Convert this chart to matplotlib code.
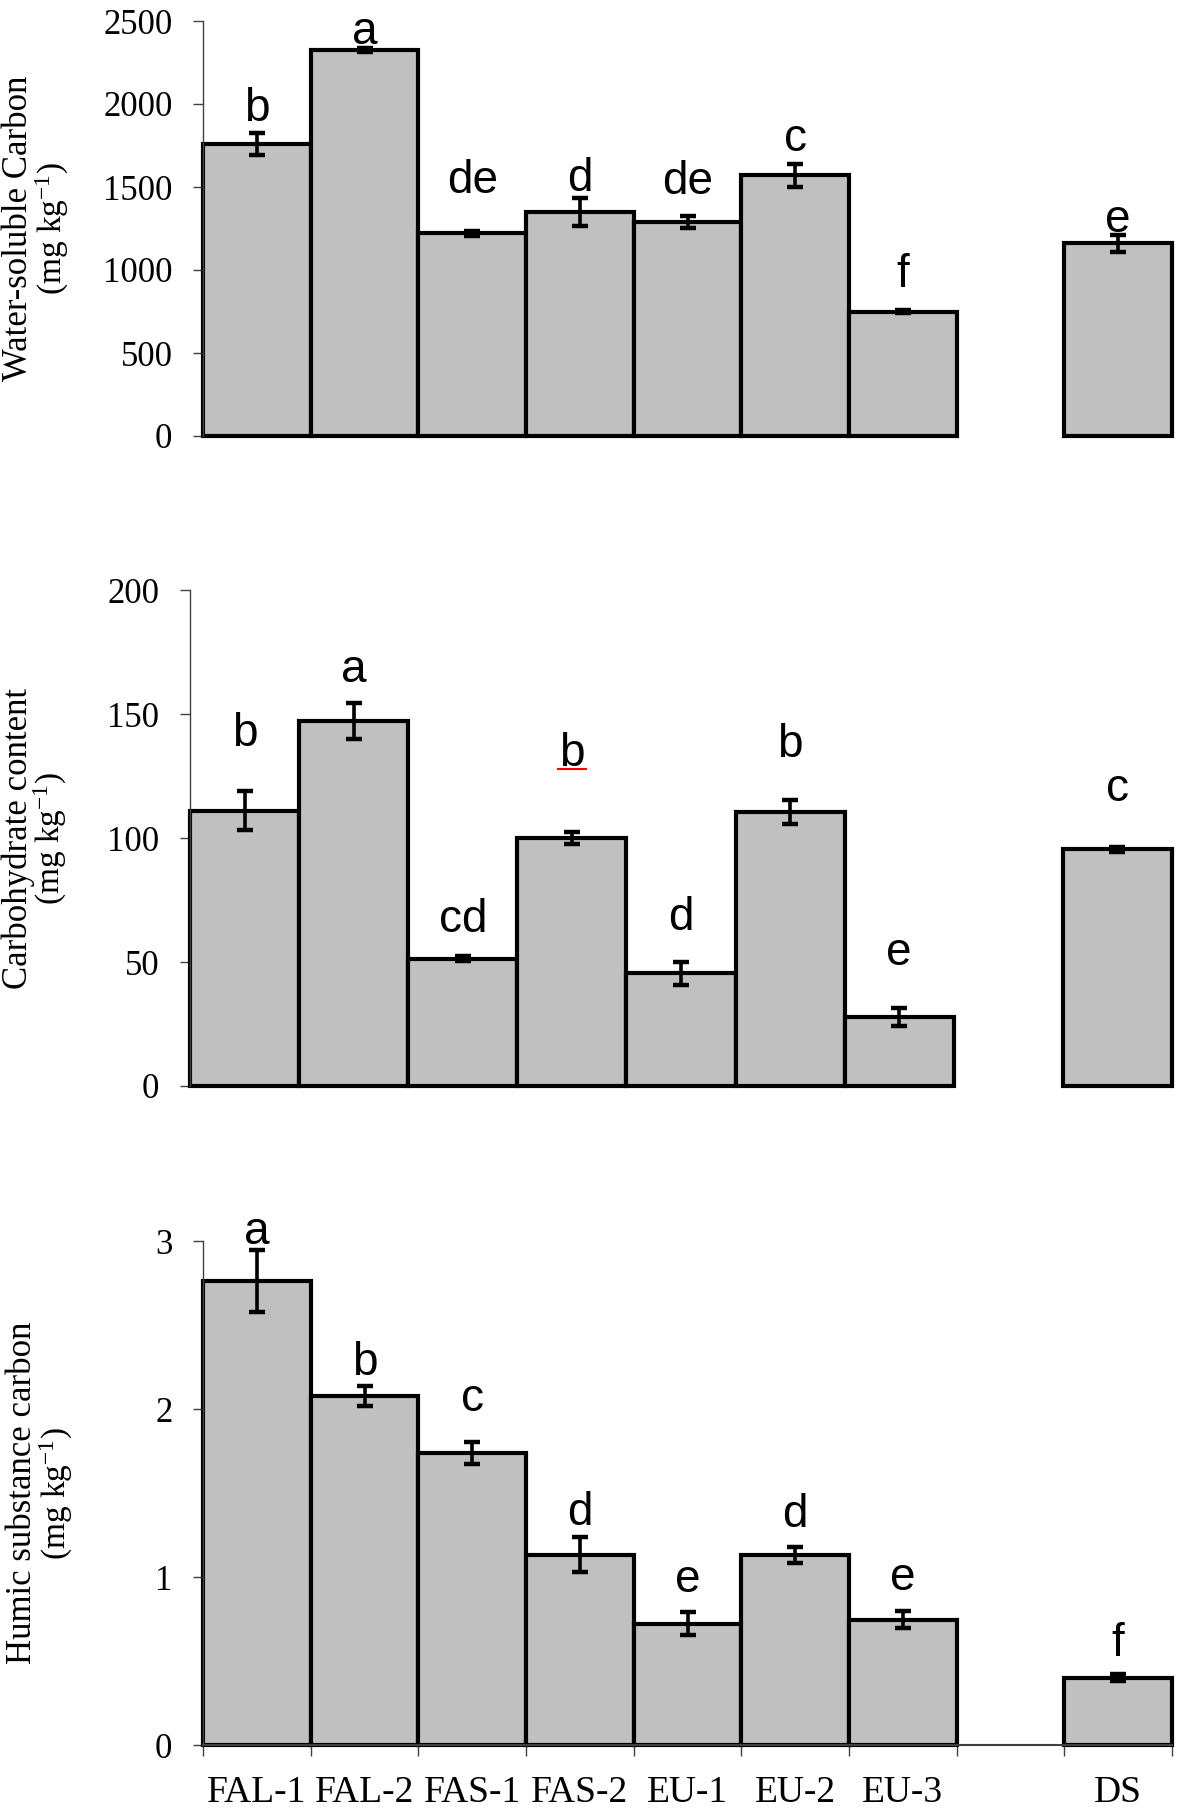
import numpy as np
import matplotlib
matplotlib.use('Agg')
import matplotlib.pyplot as plt

plt.rcParams['font.family'] = 'Liberation Serif'
plt.rcParams['mathtext.fontset'] = 'custom'
plt.rcParams['mathtext.rm'] = 'Liberation Serif'
plt.rcParams['mathtext.it'] = 'Liberation Serif:italic'

treatments = ['FAL-1', 'FAL-2', 'FAS-1', 'FAS-2', 'EU-1', 'EU-2', 'EU-3', 'DS']
xpos = [0, 1, 2, 3, 4, 5, 6, 8]   # empty slot between EU-3 and DS

# water-soluble carbon
wsc_mean = [1760, 2326, 1220, 1350, 1290, 1570, 750, 1160]
wsc_err = [67, 12, 15, 83, 38, 70, 10, 52]
wsc_letters = ['b', 'a', 'de', 'd', 'de', 'c', 'f', 'e']
wsc_letter_y = [1896, 2364, 1464, 1476, 1460, 1716, 896, 1230]

# carbohydrate content
carb_mean = [111, 147.2, 51.4, 100, 45.4, 110.4, 27.8, 95.4]
carb_err = [7.9, 7.4, 1.0, 2.6, 4.7, 4.9, 3.7, 1.0]
carb_letters = ['b', 'a', 'cd', 'b', 'd', 'b', 'e', 'c']
carb_letter_y = [137, 163, 62, 129, 62.8, 132.5, 48.9, 114.9]

# humic substance carbon
hs_mean = [2.76, 2.077, 1.739, 1.133, 0.723, 1.133, 0.746, 0.40]
hs_err = [0.184, 0.06, 0.064, 0.106, 0.067, 0.048, 0.05, 0.02]
hs_letters = ['a', 'b', 'c', 'd', 'e', 'd', 'e', 'f']
hs_letter_y = [2.98, 2.20, 1.99, 1.31, 0.91, 1.30, 0.92, 0.527]

W, H = 1181, 1809
fig = plt.figure(figsize=(W / 100, H / 100), dpi=100)


def px_axes(l, r, t, b):
    return fig.add_axes([l / W, 1 - b / H, (r - l) / W, (b - t) / H])


def panel(ax, means, errs, letters, letter_y, ymax, step, label, lx1, lx2):
    ax.bar(xpos, means, width=1.0, color='#c0c0c0', edgecolor='black',
           linewidth=3.0, zorder=2, clip_on=False)
    ax.errorbar(xpos, means, yerr=errs, fmt='none', ecolor='black',
                elinewidth=2.6, capsize=5.5, capthick=3.2, zorder=3, clip_on=False)
    for x, s, y in zip(xpos, letters, letter_y):
        ax.text(x, y, s, ha='center', va='baseline', fontsize=33,
                family='Liberation Sans', zorder=4)
    ax.set_xlim(-0.5, 8.5)
    ax.set_ylim(0, ymax)
    ax.set_yticks(np.arange(0, ymax + step / 2, step))
    ax.spines['top'].set_visible(False)
    ax.spines['right'].set_visible(False)
    ax.spines['left'].set_color('#404040')
    ax.spines['left'].set_linewidth(1.0)
    ax.tick_params(axis='y', direction='out', length=7, width=1, color='#404040',
                   labelsize=25, pad=15)
    # y label, two lines
    bb = ax.get_position()
    yc = (bb.y0 + bb.y1) / 2
    fig.text(lx1 / W, yc, label, rotation=90, ha='center', va='center', fontsize=25)
    fig.text(lx2 / W, yc, '(mg kg$^{-1}$)', rotation=90, ha='center', va='center',
             fontsize=24)


ax1 = px_axes(203, 1172, 21, 436)
panel(ax1, wsc_mean, wsc_err, wsc_letters, wsc_letter_y, 2500, 500,
      'Water-soluble Carbon', 19, 52)
ax1.spines['bottom'].set_visible(False)
ax1.set_xticks([])

ax2 = px_axes(190, 1172, 590, 1086)
panel(ax2, carb_mean, carb_err, carb_letters, carb_letter_y, 200, 50,
      'Carbohydrate content', 18, 50)
ax2.spines['bottom'].set_visible(False)
ax2.set_xticks([])
# red spell-check underline under the FAS-2 letter
i = 3
ax2.plot([xpos[i] - 0.13, xpos[i] + 0.13], [carb_letter_y[i] - 1.2] * 2,
         color='red', lw=1.5, zorder=5)

ax3 = px_axes(203, 1172, 1241, 1745)
panel(ax3, hs_mean, hs_err, hs_letters, hs_letter_y, 3, 1,
      'Humic substance carbon', 23, 56)
ax3.spines['bottom'].set_color('#404040')
ax3.spines['bottom'].set_linewidth(1.5)
ax3.set_xticks(np.arange(-0.5, 9, 1))
ax3.set_xticklabels([])
ax3.set_xticks(xpos, minor=True)
ax3.set_xticklabels(treatments, minor=True)
ax3.tick_params(axis='x', which='major', direction='out', length=8, width=1,
                color='#404040')
ax3.tick_params(axis='x', which='minor', length=0, labelsize=27, pad=22)

fig.savefig('out.png', dpi=100)
